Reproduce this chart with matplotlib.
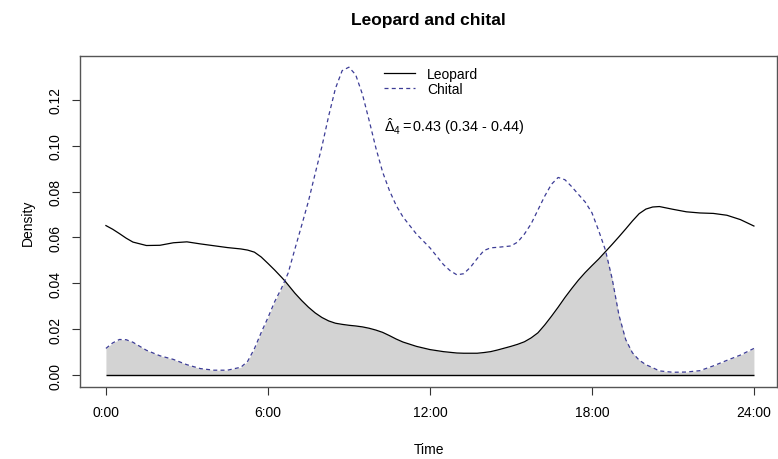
import numpy as np
import matplotlib
matplotlib.use("Agg")
import matplotlib.pyplot as plt

plt.rcParams['font.family'] = ['Liberation Sans', 'DejaVu Sans']
plt.rcParams['mathtext.fontset'] = 'custom'
plt.rcParams['mathtext.rm'] = 'Liberation Sans'
plt.rcParams['mathtext.it'] = 'Liberation Sans:italic'
plt.rcParams['mathtext.bf'] = 'Liberation Sans:bold'

# ---- data ----
hours = [0, 0.25, 0.5, 0.75, 1, 1.5, 2, 2.5, 3, 3.5, 4, 4.5, 5, 5.25, 5.5,
         5.75, 6, 6.25, 6.5, 6.625, 6.75, 7, 7.25, 7.5, 7.75, 8, 8.25, 8.5,
         8.75, 9, 9.25, 9.5, 9.75, 10, 10.25, 10.5, 10.75, 11, 11.5, 12,
         12.5, 12.75, 13, 13.25, 13.5, 13.75, 14, 14.25, 14.5, 15, 15.25,
         15.5, 15.75, 16, 16.25, 16.5, 16.75, 17, 17.25, 17.5, 17.75, 18,
         18.25, 18.5, 18.75, 19, 19.25, 19.5, 19.75, 20, 20.25, 20.5, 21,
         21.5, 22, 22.5, 23, 23.5, 24]

leopard = [0.0652, 0.0636, 0.0617, 0.0597, 0.0580, 0.0565, 0.0566, 0.0577,
           0.0581, 0.0572, 0.0564, 0.0556, 0.0550, 0.0545, 0.0536, 0.0515,
           0.0487, 0.0458, 0.0427, 0.0411, 0.0393, 0.0357, 0.0325, 0.0296,
           0.0271, 0.0251, 0.0236, 0.0226, 0.0221, 0.0217, 0.0214, 0.0210,
           0.0204, 0.0196, 0.0186, 0.0172, 0.0157, 0.0144, 0.0125, 0.0111,
           0.0102, 0.0099, 0.0096, 0.0095, 0.0095, 0.0095, 0.0098, 0.0102,
           0.0109, 0.0125, 0.0134, 0.0145, 0.0162, 0.0184, 0.0218, 0.0256,
           0.0296, 0.0338, 0.0377, 0.0414, 0.0447, 0.0477, 0.0506, 0.0538,
           0.0570, 0.0603, 0.0637, 0.0672, 0.0704, 0.0724, 0.0733, 0.0735,
           0.0723, 0.0712, 0.0707, 0.0705, 0.0697, 0.0678, 0.0650]

chital = [0.0116, 0.0140, 0.0155, 0.0154, 0.0143, 0.0108, 0.0084, 0.0068,
          0.0045, 0.0028, 0.0021, 0.0021, 0.0034, 0.0060, 0.0115, 0.0185,
          0.0250, 0.0320, 0.0378, 0.0411, 0.0445, 0.0550, 0.0653, 0.0758,
          0.0879, 0.0997, 0.1130, 0.1250, 0.1328, 0.1343, 0.1310, 0.1225,
          0.1110, 0.0990, 0.0885, 0.0805, 0.0740, 0.0690, 0.0615, 0.0555,
          0.0482, 0.0455, 0.0437, 0.0442, 0.0470, 0.0508, 0.0543, 0.0555,
          0.0557, 0.0563, 0.0580, 0.0615, 0.0660, 0.0720, 0.0780, 0.0832,
          0.0862, 0.0852, 0.0822, 0.0788, 0.0755, 0.0708, 0.0630, 0.0545,
          0.0420, 0.0262, 0.0155, 0.0097, 0.0065, 0.0045, 0.0032, 0.0018,
          0.0012, 0.0013, 0.0019, 0.0040, 0.0064, 0.0087, 0.0116]

xticks = [0, 6, 12, 18, 24]
xticklabels = ["0:00", "6:00", "12:00", "18:00", "24:00"]
yticks = [0.00, 0.02, 0.04, 0.06, 0.08, 0.10, 0.12]
yticklabels = ["0.00", "0.02", "0.04", "0.06", "0.08", "0.10", "0.12"]
series_names = ["Leopard", "Chital"]
title = "Leopard and chital"
overlap_text = r"$\hat{\Delta}_4 = $" + "0.43 (0.34 - 0.44)"

# ---- figure ----
W, H = 778, 460
fig = plt.figure(figsize=(W / 100, H / 100), dpi=100)
left_px, right_px, top_px, bot_px = 80, 777, 56.5, 388.3
ax = fig.add_axes([left_px / W, 1 - bot_px / H,
                   (right_px - left_px) / W, (bot_px - top_px) / H])

x = np.array(hours)
a = np.array(leopard)
b = np.array(chital)

ax.fill_between(x, 0, np.minimum(a, b), color='#D3D3D3', linewidth=0)
ax.hlines(0, x[0], x[-1], color='black', linewidth=1.0)
ax.plot(x, a, color='black', linewidth=0.9, label=series_names[0],
        solid_joinstyle='round')
ax.plot(x, b, color='#3C3C96', linewidth=0.9, linestyle=(0, (3.2, 2.6)),
        label=series_names[1])

ax.set_xlim(-0.96, 24.855)
ax.set_ylim(-0.00536, 0.1394)

ax.set_xticks(xticks)
ax.set_xticklabels(xticklabels)
ax.set_yticks(yticks)
ax.set_yticklabels(yticklabels, rotation=90, va='center')
ax.tick_params(axis='both', direction='out', length=5.5, width=0.8,
               color='#333333', labelsize=10, labelcolor='black')
ax.tick_params(axis='x', pad=7)
ax.tick_params(axis='y', pad=7)

for s in ax.spines.values():
    s.set_color('#555555')
    s.set_linewidth(1.0)

ax.set_xlabel("Time", fontsize=10, labelpad=17)
ax.set_ylabel("Density", fontsize=10, labelpad=10)
fig.text(428 / W, 1 - 20 / H, title, ha='center', va='center',
         fontsize=12.5, fontweight='bold')

leg = ax.legend(loc='upper left', bbox_to_anchor=(384 / W, 1 - 68 / H),
                bbox_transform=fig.transFigure, frameon=False, fontsize=10,
                handlelength=2.2, handletextpad=0.9, labelspacing=0.08,
                borderpad=0, borderaxespad=0)

fig.text(384 / W, 1 - 127 / H, overlap_text, ha='left', va='center',
         fontsize=10.4)

fig.savefig("out.png", dpi=100)
